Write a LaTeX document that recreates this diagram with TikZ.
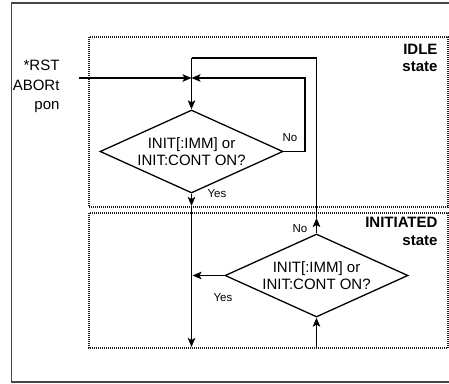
\documentclass[tikz,border=0pt]{standalone}
\usepackage{fontspec}
\setmainfont{Liberation Sans}
\usetikzlibrary{positioning,arrows.meta,shapes.geometric}
\definecolor{framegray}{RGB}{70,70,70}
\definecolor{dotgray}{RGB}{30,30,30}

\begin{document}
\begin{tikzpicture}[x=1pt,y=-1pt,
    every node/.style={font=\fontsize{15}{17.7}\selectfont},
    decision/.style={draw,line width=1.3pt,diamond,aspect=2.2,minimum width=183pt,minimum height=83pt,inner sep=0pt,align=center},
    statebox/.style={draw=dotgray,line width=1.2pt,dash pattern=on 1pt off 1pt},
    statename/.style={font=\fontsize{15}{17.5}\selectfont\bfseries,align=right,anchor=east},
    small/.style={font=\fontsize{11.5}{13}\selectfont},
    arr/.style={-{Stealth[length=9pt,width=7.5pt,inset=2pt]},line width=1.4pt},
    flow/.style={line width=1.4pt}]
    \useasboundingbox (0,0) rectangle (449,383);
    \begin{scope}
    \clip (0,0) rectangle (449,383);
    \draw[framegray,line width=1.2pt] (11.5,3) rectangle (460,382);
    \end{scope}
    % state regions
    \draw[statebox] (89,37) rectangle (448,207);
    \draw[statebox] (89,213) rectangle (448,348);
    \node[statename] (idlelbl) at (441,58) {IDLE\\ state};
    \node[statename] (initlbl) at (441,231.5) {INITIATED\\ state};
    % decisions
    \node[decision] (idle) at (191.5,151.5) {INIT[:IMM] or\\ INIT:CONT ON?};
    \node[decision] (init) at (316.5,275.5) {INIT[:IMM] or\\ INIT:CONT ON?};
    \node[align=right,anchor=east,font=\fontsize{15}{19.5}\selectfont] (entrylbl) at (63,86.5) {*RST\\ ABORt\\ pon};
    % junction points
    \coordinate (entry) at (79,78);
    \coordinate (merge) at (191.5,78);
    \coordinate (loopR) at (305,78);
    \coordinate (topL) at (191.5,58);
    \coordinate (topR) at (316.5,58);
    \coordinate (idleexit) at (191.5,206);
    \coordinate (bottomL) at (191.5,347);
    \coordinate (initup) at (316.5,218);
    \coordinate (initin) at (316.5,348);
    \coordinate (initjoin) at (192.5,275.5);
    % connectors
    \draw[arr] (entry) -- (merge);
    \draw[arr] (idle.east) -| (loopR) -- (merge);
    \draw[arr] (topL) -- (idle.north);
    \draw[arr] (idle.south) -- (idleexit);
    \draw[arr] (idleexit) -- (bottomL);
    \draw[arr] (init.west) -- (initjoin);
    \draw[arr] (initin) -- (init.south);
    \draw[arr] (init.north) -- (initup);
    \draw[flow] (initup) -- (topR) -- (topL);
    \node[small] (idleno) at (290,138) {No};
    \node[small,anchor=west] (idleyes) at (204,194) {Yes};
    \node[small] (initno) at (300,229) {No};
    \node[small] (inityes) at (223,298) {Yes};
  \end{tikzpicture}
\end{document}
